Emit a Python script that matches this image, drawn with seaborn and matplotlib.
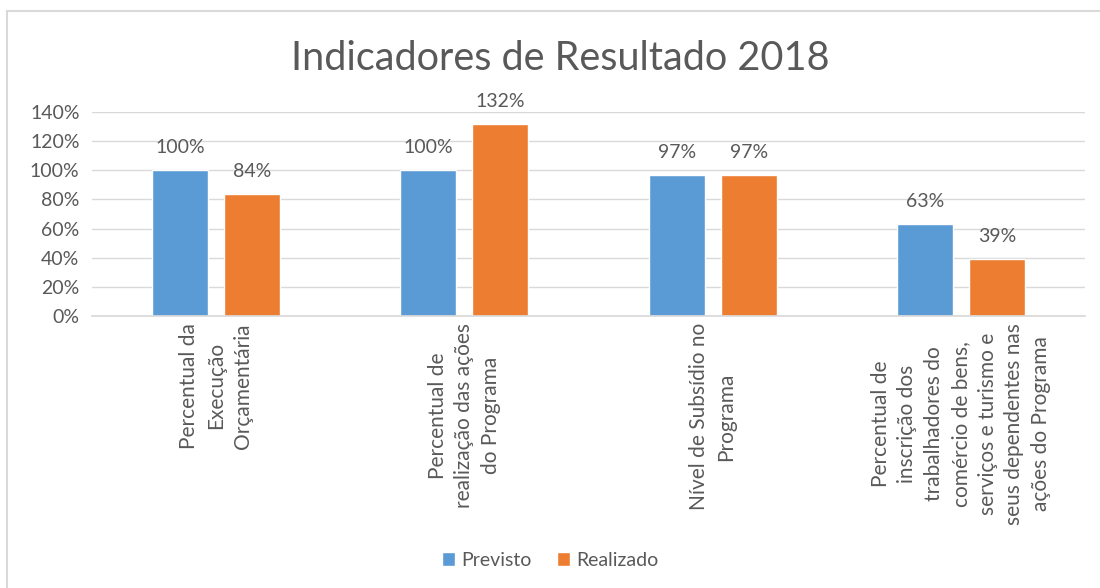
import matplotlib
matplotlib.use("Agg")
import matplotlib.pyplot as plt
import seaborn as sns
import pandas as pd
from matplotlib.patches import Rectangle
from matplotlib.ticker import FuncFormatter

categories = [
    "Percentual da\nExecução\nOrçamentária",
    "Percentual de\nrealização das ações\ndo Programa",
    "Nível de Subsídio no\nPrograma",
    "Percentual de\ninscrição dos\ntrabalhadores do\ncomércio de bens,\nserviços e turismo e\nseus dependentes nas\nações do Programa",
]
previsto = [1.00, 1.00, 0.97, 0.63]
realizado = [0.84, 1.32, 0.97, 0.39]
series_names = ["Previsto", "Realizado"]
yticks = [0, 0.2, 0.4, 0.6, 0.8, 1.0, 1.2, 1.4]

df = pd.DataFrame({
    "cat": categories * 2,
    "serie": [series_names[0]] * 4 + [series_names[1]] * 4,
    "valor": previsto + realizado,
})

sns.set_theme(style="white")
FONT = ["Lato", "DejaVu Sans"]
plt.rcParams["font.family"] = FONT
TXT = "#595959"

fig = plt.figure(figsize=(11, 5.88), dpi=100)
ax = fig.add_axes([92/1100, 1 - 316/588, (1085-92)/1100, (316-112)/588])

sns.barplot(data=df, x="cat", y="valor", hue="serie", order=categories,
            hue_order=series_names, palette=["#5B9BD5", "#ED7D31"],
            width=0.58, gap=0.22, ax=ax, legend=True, saturation=1)

ax.set_ylim(0, 1.4)
ax.set_yticks(yticks)
ax.yaxis.set_major_formatter(FuncFormatter(lambda v, p: f"{v*100:.0f}%"))
ax.grid(axis="y", color="#D9D9D9", linewidth=1)
ax.set_axisbelow(True)
for s in ["top", "right", "left"]:
    ax.spines[s].set_visible(False)
ax.spines["bottom"].set_color("#D9D9D9")
ax.tick_params(axis="both", length=0, colors=TXT, labelsize=14)
ax.tick_params(axis="y", pad=9)
ax.tick_params(axis="x", pad=5)
ax.set_xlabel("")
ax.set_ylabel("")
ax.set_xticks(range(len(categories)))
ax.set_xticklabels(categories, rotation=90, ha="center", va="top",
                   multialignment="center", fontsize=15, color=TXT,
                   linespacing=1.42)

for cont in ax.containers:
    ax.bar_label(cont, labels=[f"{v*100:.0f}%" for v in cont.datavalues],
                 padding=10, fontsize=14, color=TXT)

leg = ax.legend(loc="center", bbox_to_anchor=(550/1100, 1 - 560/588), bbox_transform=fig.transFigure,
                ncol=2, frameon=False, fontsize=14, handlelength=0.7, handleheight=0.7,
                handletextpad=0.3, columnspacing=1.3)
for t in leg.get_texts():
    t.set_color(TXT)

fig.text(560/1100, 1 - 58/588, "Indicadores de Resultado 2018", ha="center", va="center",
         fontsize=28.5, color=TXT)

fig.patches.append(Rectangle((7/1100, -0.1), 1.2, 1 - 11/588 + 0.1, transform=fig.transFigure,
                             fill=False, edgecolor="#D9D9D9", linewidth=1.5))

fig.savefig("out.png", dpi=100)
